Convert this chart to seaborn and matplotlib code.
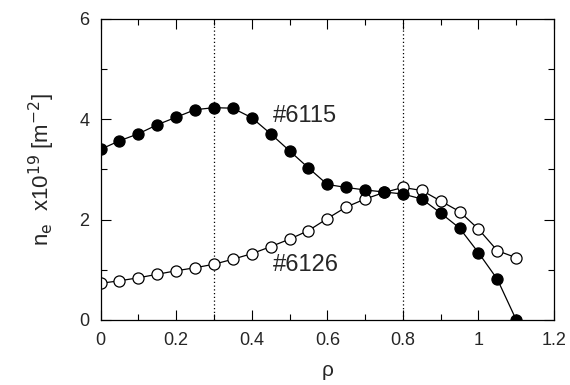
import matplotlib
matplotlib.use("Agg")
import matplotlib.pyplot as plt
import seaborn as sns
import numpy as np
import pandas as pd
from matplotlib.ticker import MultipleLocator

rho = [0.0, 0.05, 0.1, 0.15, 0.2, 0.25, 0.3, 0.35, 0.4, 0.45, 0.5, 0.55,
       0.6, 0.65, 0.7, 0.75, 0.8, 0.85, 0.9, 0.95, 1.0, 1.05, 1.1]
ne_6115 = [3.40, 3.57, 3.71, 3.89, 4.04, 4.19, 4.23, 4.22, 4.03, 3.71, 3.37, 3.03,
           2.70, 2.64, 2.59, 2.55, 2.51, 2.41, 2.13, 1.83, 1.34, 0.81, 0.0]
ne_6126 = [0.73, 0.78, 0.84, 0.91, 0.98, 1.04, 1.11, 1.21, 1.32, 1.46, 1.61, 1.78,
           2.02, 2.25, 2.41, 2.54, 2.64, 2.58, 2.37, 2.16, 1.81, 1.38, 1.24]
labels = ["#6115", "#6126"]
vlines = [0.3, 0.8]

sns.set_theme(style="ticks")
plt.rcParams['font.family'] = ['Liberation Sans', 'DejaVu Sans']

fig = plt.figure(figsize=(5.7, 3.85), dpi=100)
ax = fig.add_axes([0.1765, 0.169, 0.7955, 0.782])

df1 = pd.DataFrame({"rho": rho, "ne": ne_6115})
df2 = pd.DataFrame({"rho": rho, "ne": ne_6126})

for xv in vlines:
    ax.axvline(xv, color="black", linestyle=(0, (1, 2)), linewidth=0.9, zorder=1)

sns.lineplot(data=df1, x="rho", y="ne", ax=ax, color="black", linewidth=0.9,
             marker="o", markersize=8, markerfacecolor="black",
             markeredgecolor="black", markeredgewidth=0.9, zorder=3)
sns.lineplot(data=df2, x="rho", y="ne", ax=ax, color="black", linewidth=0.9,
             marker="o", markersize=8, markerfacecolor="white",
             markeredgecolor="black", markeredgewidth=0.9, zorder=2)

ax.text(0.455, 4.07, labels[0], fontsize=17, va="center", ha="left")
ax.text(0.455, 1.09, labels[1], fontsize=17, va="center", ha="left")

ax.set_xlim(0, 1.2)
ax.set_ylim(0, 6)
ax.xaxis.set_major_locator(MultipleLocator(0.2))
ax.xaxis.set_minor_locator(MultipleLocator(0.1))
ax.yaxis.set_major_locator(MultipleLocator(2))
ax.yaxis.set_minor_locator(MultipleLocator(1))
ax.set_xticks([0, 0.2, 0.4, 0.6, 0.8, 1.0, 1.2])
ax.set_xticklabels(["0", "0.2", "0.4", "0.6", "0.8", "1", "1.2"])
ax.set_yticks([0, 2, 4, 6])
ax.set_yticklabels(["0", "2", "4", "6"])
ax.tick_params(which="both", direction="in", top=True, right=True, labelsize=13,
               color="black", width=0.8)
ax.tick_params(which="major", length=7)
ax.tick_params(axis="x", which="major", pad=9)
ax.tick_params(axis="y", which="major", pad=8)
ax.tick_params(which="minor", length=4)
for s in ax.spines.values():
    s.set_linewidth(0.9)
    s.set_color("black")

ax.set_xlabel("ρ", fontsize=15, labelpad=8)
ax.set_ylabel(r"n$_{\mathrm{e}}$  x10$^{19}$ [m$^{-2}$]", fontsize=16, labelpad=16)

fig.savefig("out.png", dpi=100)
